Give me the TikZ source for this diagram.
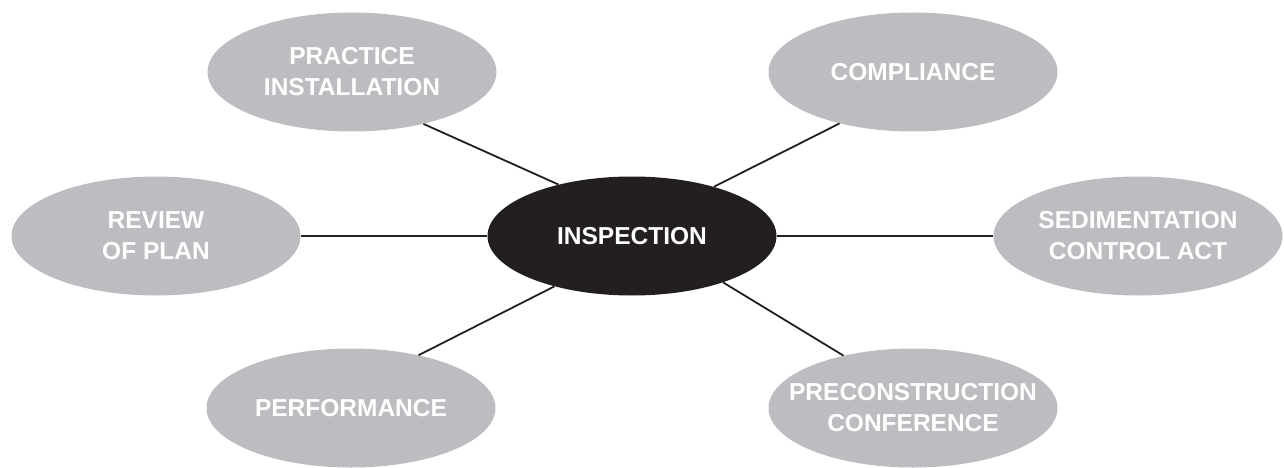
\documentclass[tikz,border=0pt]{standalone}
\usepackage{fontspec}
\setmainfont{Liberation Sans}
\usetikzlibrary{shapes.geometric}
\definecolor{bubble}{RGB}{188,189,192}
\definecolor{hub}{RGB}{35,31,32}
\begin{document}
\begin{tikzpicture}[x=1pt,y=-1pt,
  bub/.style={ellipse, fill=bubble, minimum width=289pt, minimum height=119pt,
    inner xsep=-40pt, inner ysep=0pt, text=white,
    font=\bfseries\fontsize{24.5}{31}\selectfont, align=center},
  hubnode/.style={bub, fill=hub},
  link/.style={line width=1.8pt, draw=hub}]
\useasboundingbox (0,0) rectangle (1284,468);
\node[hubnode] (insp) at (632,236) {INSPECTION};
\node[bub] (prac) at (352,72) {PRACTICE\\INSTALLATION};
\node[bub] (comp) at (913,72) {COMPLIANCE};
\node[bub] (rev) at (156,236) {REVIEW\\OF PLAN};
\node[bub] (sed) at (1138,236) {SEDIMENTATION\\CONTROL ACT};
\node[bub] (perf) at (351,408) {PERFORMANCE};
\node[bub] (pre) at (913,408) {PRECONSTRUCTION\\CONFERENCE};
\draw[link] (prac.-36) -- (insp.145);
\draw[link] (comp.-145) -- (insp.31);
\draw[link] (rev.east) -- (insp.west);
\draw[link] (insp.east) -- (sed.west);
\draw[link] (perf.38) -- (insp.-147);
\draw[link] (insp.-27) -- (pre.143);
\end{tikzpicture}
\end{document}
